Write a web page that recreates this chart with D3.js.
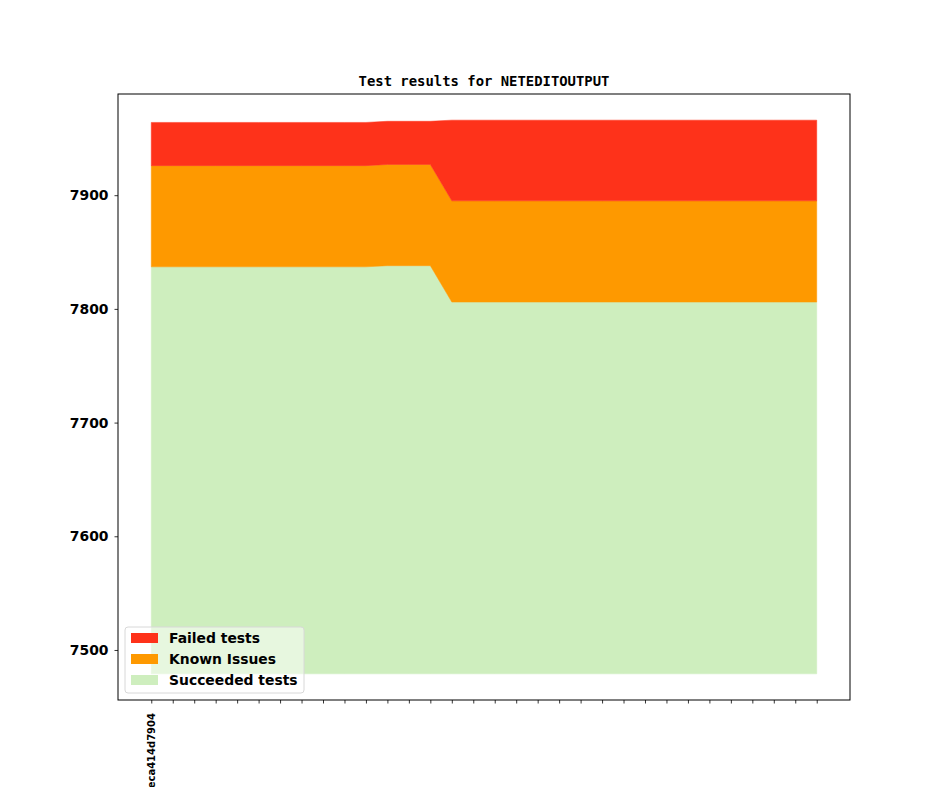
<!DOCTYPE html>
<html lang="en">
<head>
  <meta charset="UTF-8">
  <title>Test results for NETEDITOUTPUT</title>
  <script src="https://d3js.org/d3.v7.min.js"></script>
  <style>
    body { margin: 0; background: white; }
    svg { display: block; }
    .tick text { font-family: 'DejaVu Sans', sans-serif; font-weight: bold; fill: black; }
    .title { font-family: 'DejaVu Sans Mono', monospace; font-weight: bold; font-size: 13.9px; text-anchor: middle; }
    .legend text { font-family: 'DejaVu Sans', sans-serif; font-weight: bold; font-size: 13.9px; }
  </style>
</head>
<body>
  <svg width="944" height="787"></svg>

  <script>
    // one label per commit, only the first is printed
    const commits = ["eca414d7904"].concat(d3.range(31).map(() => ""));

    const succeeded = [7837, 7837, 7837, 7837, 7837, 7837, 7837, 7837, 7837, 7837, 7837,
                       7838, 7838, 7838,
                       7806, 7806, 7806, 7806, 7806, 7806, 7806, 7806, 7806, 7806, 7806,
                       7806, 7806, 7806, 7806, 7806, 7806, 7806];
    const knownIssues = [89, 89, 89, 89, 89, 89, 89, 89, 89, 89, 89,
                         89, 89, 89,
                         89, 89, 89, 89, 89, 89, 89, 89, 89, 89, 89,
                         89, 89, 89, 89, 89, 89, 89];
    const failed = [38, 38, 38, 38, 38, 38, 38, 38, 38, 38, 38,
                    38, 38, 38,
                    71, 71, 71, 71, 71, 71, 71, 71, 71, 71, 71,
                    71, 71, 71, 71, 71, 71, 71];
    const baseline = 7479;   // lower edge of the green band
    const yTicks = [7500, 7600, 7700, 7800, 7900];

    const svg = d3.select("svg");
    const plotLeft = 118, plotRight = 850, plotTop = 94, plotBottom = 700;

    const x = d3.scaleLinear()
      .domain([-1.55, commits.length - 1 + 1.55])
      .range([plotLeft, plotRight]);
    const y = d3.scaleLinear()
      .domain([7456, 7989])
      .range([plotBottom, plotTop]);

    // stacked bands: succeeded from baseline, then known issues, then failed
    const rows = commits.map((c, i) => ({
      i: i,
      s0: baseline,
      s1: succeeded[i],
      k1: succeeded[i] + knownIssues[i],
      f1: succeeded[i] + knownIssues[i] + failed[i]
    }));

    const bands = [
      {name: "Succeeded tests", color: "#ceeebe", lo: "s0", hi: "s1"},
      {name: "Known Issues", color: "#fe9900", lo: "s1", hi: "k1"},
      {name: "Failed tests", color: "#fe321a", lo: "k1", hi: "f1"}
    ];

    const plot = svg.append("g");
    bands.forEach(b => {
      const area = d3.area()
        .x(d => x(d.i))
        .y0(d => y(d[b.lo]))
        .y1(d => y(d[b.hi]));
      plot.append("path")
        .datum(rows)
        .attr("d", area)
        .attr("fill", b.color)
        .attr("stroke", b.color)
        .attr("stroke-width", 0.5);
    });

    // axes
    const yAxis = svg.append("g")
      .attr("transform", `translate(${plotLeft},0)`)
      .call(d3.axisLeft(y).tickValues(yTicks).tickSize(3.5).tickPadding(6).tickFormat(d3.format("d")));
    yAxis.select(".domain").remove();
    yAxis.selectAll("text").style("font-size", "13.9px");

    const xAxis = svg.append("g")
      .attr("transform", `translate(0,${plotBottom})`)
      .call(d3.axisBottom(x).tickValues(d3.range(commits.length)).tickSize(3.5).tickFormat(i => commits[i]));
    xAxis.select(".domain").remove();
    xAxis.selectAll("text")
      .style("font-size", "10px")
      .attr("text-anchor", "end")
      .attr("transform", "rotate(-90)")
      .attr("x", -13)
      .attr("y", 0)
      .attr("dy", "0.35em");

    svg.selectAll(".tick line").attr("stroke", "black").attr("stroke-width", 0.8);

    svg.append("rect")
      .attr("x", plotLeft).attr("y", plotTop)
      .attr("width", plotRight - plotLeft).attr("height", plotBottom - plotTop)
      .attr("fill", "none").attr("stroke", "black").attr("stroke-width", 1);

    svg.append("text")
      .attr("class", "title")
      .attr("x", (plotLeft + plotRight) / 2)
      .attr("y", 86)
      .text("Test results for NETEDITOUTPUT");

    // legend, lower left
    const legend = svg.append("g").attr("class", "legend");
    legend.append("rect")
      .attr("x", 125).attr("y", 627)
      .attr("width", 179).attr("height", 66)
      .attr("rx", 3)
      .attr("fill", "white").attr("fill-opacity", 0.5)
      .attr("stroke", "#d8d8d8");

    const items = bands.slice().reverse();
    items.forEach((b, k) => {
      const cy = 638 + k * 21;
      legend.append("rect")
        .attr("x", 131).attr("y", cy - 5)
        .attr("width", 27).attr("height", 10)
        .attr("fill", b.color);
      legend.append("text")
        .attr("x", 169).attr("y", cy)
        .attr("dy", "0.35em")
        .text(b.name);
    });
  </script>
</body>
</html>
